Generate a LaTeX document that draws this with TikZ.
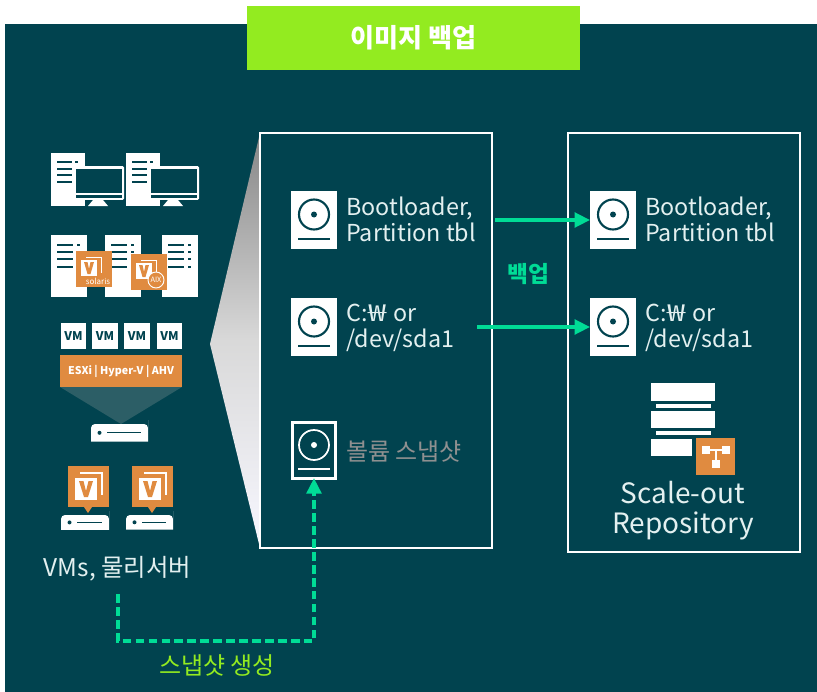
\documentclass[tikz,border=0pt]{standalone}
\usepackage{fontspec}
\setmainfont{Noto Sans CJK KR}
\usetikzlibrary{arrows.meta}
\definecolor{panelteal}{HTML}{01434F}
\definecolor{limegreen}{HTML}{93EB20}
\definecolor{arrowgreen}{HTML}{00DC96}
\definecolor{badgeorange}{HTML}{E08B40}
\definecolor{paletext}{HTML}{E3F0F0}
\definecolor{funnelteal}{HTML}{2C5E66}
\tikzset{
    pxfont/.style={font=\fontsize{#1}{#1}\selectfont},
    disklabel/.style={pxfont=17.5pt, text=paletext, align=left, anchor=west, inner sep=0pt},
    diskicon/.style={fill=white, minimum width=34.5pt, minimum height=43.5pt, inner sep=0pt, outer sep=0pt},
    vmbox/.style={fill=white, text=panelteal, minimum width=19pt, minimum height=19pt, inner sep=0pt, font=\bfseries\fontsize{9pt}{9pt}\selectfont},
    backup/.style={arrowgreen, line width=2.4pt, -{Triangle[length=11.5pt,width=11pt]}},
    bigbox/.style={draw=white, line width=1.9pt, fill=panelteal}
}
\begin{document}
\begin{tikzpicture}[x=0.75pt,y=-0.75pt]
    \useasboundingbox (0,0) rectangle (817,692);
    \fill[white] (0,0) rectangle (817,692);

    % Panel and title
    \fill[panelteal] (5,24) rectangle (817,692);
    \node[fill=limegreen, text=white, minimum width=249.75pt, minimum height=48pt, inner sep=0pt,
          font=\bfseries\fontsize{19.6pt}{19.6pt}\selectfont] (title) at (413.5,38) {이미지 백업};

    % Funnel and boxes
    \shade[top color=gray!95, bottom color=blue!3!white, middle color=gray!30] (210,344) -- (260,133) -- (260,548) -- cycle;
    \draw[bigbox] (260,133) rectangle (492,548);
    \draw[bigbox] (568,133) rectangle (800,552);

    % Disks
    \foreach \n/\x/\y in {1/314/220, 2/314/327, 4/613/220, 5/613/327} {
        \node[diskicon] (disk\n) at (\x,\y) {};
        \draw[panelteal, line width=1.6pt] (\x,\y-5.5) circle (15);
        \fill[panelteal] (\x,\y-5.5) circle (3);
        \draw[panelteal, line width=1.5pt] (\x-16,\y+19) -- (\x+16,\y+19);
    }
    \node[diskicon, fill=panelteal, draw=white, line width=2.2pt, minimum width=32.5pt, minimum height=41.5pt] (disk3) at (314,450.5) {};
    \draw[white, line width=1.3pt] (314,445) circle (15);
    \fill[white] (314,445) circle (3);
    \draw[white, line width=1.5pt] (298,469) -- (330,469);

    % Disk labels
    \node[disklabel] (bootleft) at (346,219) {Bootloader,\\[2pt]Partition tbl};
    \node[disklabel] (sysleft) at (346,328) {C:\kern1pt\scalebox{1.4}[1]{₩}\kern1pt\ or\\[2pt]/dev/sda1};
    \node[disklabel] (bootright) at (645,219) {Bootloader,\\[2pt]Partition tbl};
    \node[disklabel] (sysright) at (645,328) {C:\kern1pt\scalebox{1.4}[1]{₩}\kern1pt\ or\\[2pt]/dev/sda1};
    \node[disklabel, pxfont=18pt, text=gray!85!paletext] (snaplabel) at (346,451) {볼륨 스냅샷};

    % Backup arrows
    \coordinate (bootstart) at (495,220);
    \coordinate (sysstart) at (477,327);
    \draw[backup] (bootstart) -- (disk4.west);
    \draw[backup] (sysstart) -- (disk5.west);
    \node[text=arrowgreen, font=\bfseries\fontsize{17pt}{17pt}\selectfont, inner sep=0pt] (backuplabel) at (528,274) {백업};

    % Snapshot arrow
    \coordinate (snapstart) at (118,594);
    \draw[backup, dash pattern=on 6.5pt off 3.2pt] (snapstart) -- (118,641) -- (314,641) -- (disk3.south);
    \node[text=limegreen, pxfont=18pt, inner sep=0pt] (snaptext) at (217,665) {스냅샷 생성};

    % Desktops
    \foreach \x in {0,75} {
        \fill[white] (51+\x,153) rectangle (85+\x,206);
        \foreach \y in {162,169,175,182}
            \fill[panelteal] (57+\x,\y-1) rectangle (72+\x,\y+1);
        \fill[panelteal] (75+\x,161) rectangle (78+\x,163);
        \fill[white, rounded corners=1pt] (74+\x,166) rectangle (124+\x,200);
        \fill[panelteal] (75.5+\x,168.5) rectangle (122+\x,193);
        \fill[panelteal] (75.5+\x,194.5) rectangle (122+\x,197.5);
        \fill[panelteal] (85+\x,200) rectangle (124+\x,207);
        \fill[white] (93+\x,200) -- (103+\x,200) -- (108+\x,206) -- (88+\x,206) -- cycle;
    }

    % Towers with badges
    \foreach \x in {51,105,162} {
        \fill[white] (\x,235) rectangle (\x+36,297);
        \foreach \y in {245,252,259,267} {
            \fill[panelteal] (\x+6,\y-1) rectangle (\x+22,\y+1);
            \fill[panelteal] (\x+26,\y-1) rectangle (\x+29,\y+1);
        }
    }
    \foreach \x/\y in {76/251, 131/254} {
        \fill[badgeorange] (\x,\y) rectangle (\x+36,\y+36);
        \draw[white, line width=0.6pt] (\x+10,\y+6) -- (\x+25,\y+6) -- (\x+25,\y+22);
        \fill[white] (\x+5,\y+9) rectangle (\x+21,\y+25);
        \fill[badgeorange] (\x+8,\y+11) -- (\x+11.5,\y+11) -- (\x+13,\y+18) -- (\x+14.5,\y+11) -- (\x+18,\y+11) -- (\x+14.5,\y+23) -- (\x+11.5,\y+23) -- cycle;
    }
    \node[text=white, font=\fontsize{6pt}{6pt}\selectfont, inner sep=0pt] (solaris) at (98,281) {solaris};
    \draw[white, fill=badgeorange, line width=0.7pt] (156,280) circle (8);
    \node[text=white, font=\fontsize{5.5pt}{5.5pt}\selectfont, inner sep=0pt] (aixlabel) at (156,280) {AIX};

    % Hypervisor
    \foreach \n/\x in {1/73.5, 2/105, 3/137, 4/169.5}
        \node[vmbox] (vm\n) at (\x,336) {VM};
    \node[fill=badgeorange, text=white, minimum width=91.5pt, minimum height=24pt, inner sep=0pt,
          font=\bfseries\fontsize{8pt}{8pt}\selectfont] (hyperbar) at (121,371) {ESXi | Hyper-V | AHV};
    \fill[funnelteal] (60,387) -- (182,387) -- (121,424) -- cycle;

    % Servers
    \foreach \x/\y/\w in {91/424/57, 61/515/48, 126/515/47} {
        \fill[white, rounded corners=3pt] (\x,\y+\w*0.3+0.5) -- (\x,\y) -- (\x+\w,\y) -- (\x+\w,\y+0.1) [sharp corners] -- (\x+\w,\y+\w*0.3+0.5) -- cycle;
        \fill[panelteal] (\x+8.5,\y+\w*0.15+0.25) circle (2);
        \draw[panelteal, line width=0.9pt] (\x+16,\y+\w*0.15+0.25) -- (\x+\w-7,\y+\w*0.15+0.25);
    }

    % Veeam badges over servers
    \foreach \x in {68,132} {
        \fill[badgeorange] (\x,466) rectangle (\x+41,507);
        \fill[badgeorange] (\x+16,507) -- (\x+24,507) -- (\x+20,513) -- cycle;
        \draw[white, line width=0.8pt] (\x+12,473) -- (\x+34,473) -- (\x+34,495);
        \fill[white] (\x+7,478) rectangle (\x+29,500);
        \fill[badgeorange] (\x+11,481) -- (\x+15.5,481) -- (\x+18,491) -- (\x+20.5,481) -- (\x+25,481) -- (\x+20,497) -- (\x+16,497) -- cycle;
    }
    \node[text=paletext, pxfont=18.3pt, inner sep=0pt] (sourcelabel) at (117.5,569) {VMs, 물리서버};

    % Scale-out repository
    \fill[white] (651,383) rectangle (715,401);
    \fill[white] (656,404) rectangle (711,408);
    \fill[white] (651,411) rectangle (715,428);
    \fill[white] (656,431) rectangle (711,435);
    \fill[white] (651,439) rectangle (692,456);
    \fill[badgeorange] (696,438) rectangle (735,475);
    \draw[white, line width=0.9pt] (706,450) -- (726,450) (716,450) -- (716,464);
    \foreach \x/\y in {706/450, 726/450, 716/464}
        \fill[white] (\x-4,\y-4) rectangle (\x+4,\y+4);
    \node[text=paletext, pxfont=21pt, align=center, inner sep=0pt] (repolabel) at (683,510.5) {Scale-out\\[1pt]Repository};
\end{tikzpicture}
\end{document}
